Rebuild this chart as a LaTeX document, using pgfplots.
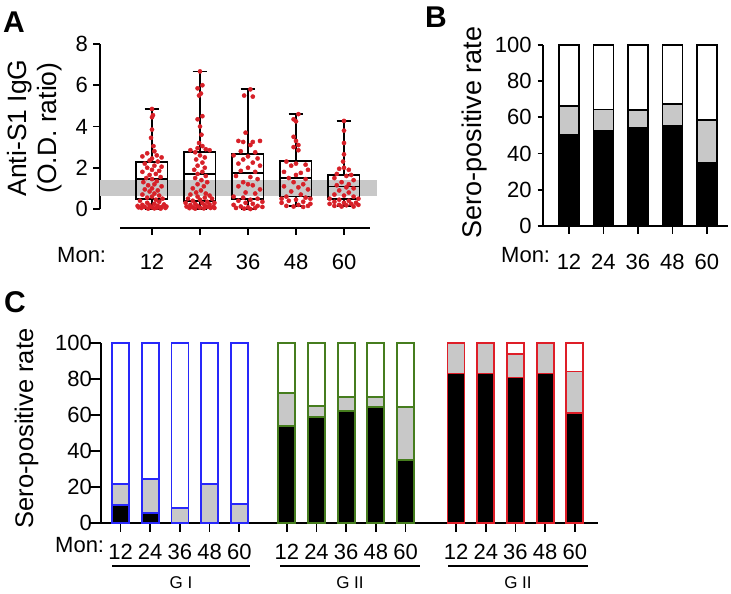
\documentclass[border=0pt]{standalone}
\usepackage{fontspec}
\setmainfont{Liberation Sans}
\usepackage{pgfplots}
\pgfplotsset{compat=1.18}
\usepgfplotslibrary{statistics}

\definecolor{dotred}{RGB}{215,32,40}
\definecolor{gblue}{RGB}{40,40,250}
\definecolor{ggreen}{RGB}{70,125,30}
\definecolor{gred}{RGB}{222,30,40}
\definecolor{bandgray}{RGB}{200,200,200}
\definecolor{seggray}{RGB}{200,200,200}

\newcommand{\tickfont}{\fontsize{22}{26}\selectfont}

\pgfplotsset{
  myaxis/.style={
    scale only axis, clip=false,
    /pgf/number format/assume math mode=true,
    tick align=outside,
    major tick length=7pt,
    every tick/.style={black, line width=1.8pt},
    axis line style={black, line width=1.8pt},
    ticklabel style={font=\tickfont},
    yticklabel style={anchor=east, inner sep=0pt},
    xticklabel style={anchor=base, inner sep=0pt},
  },
}

\begin{document}
\begin{tikzpicture}
\path[use as bounding box] (0pt,0pt) rectangle (731pt,594pt);

% ---------------- Panel A ----------------
\begin{axis}[myaxis, at={(100pt,385pt)}, anchor=south west,
  width=277pt, height=165pt,
  xmin=-0.0833, xmax=5.6875, ymin=0, ymax=8,
  axis y line*=left, axis x line=none,
  ytick={0,2,4,6,8},
  boxplot/draw direction=y,
  yticklabel style={xshift=-5pt}]
\addplot[fill=bandgray, draw=none] coordinates {(-0.0833,0.61) (5.6875,0.61) (5.6875,1.40) (-0.0833,1.40)} --cycle;
\addplot[black, line width=1.8pt, boxplot prepared={lower whisker=0, lower quartile=0.48, median=1.46, upper quartile=2.27, upper whisker=4.85, draw position=1, box extend=0.65, whisker extend=0.31}] coordinates {};
\addplot[black, line width=1.8pt, boxplot prepared={lower whisker=0, lower quartile=0.40, median=1.70, upper quartile=2.78, upper whisker=6.67, draw position=2, box extend=0.65, whisker extend=0.31}] coordinates {};
\addplot[black, line width=1.8pt, boxplot prepared={lower whisker=0, lower quartile=0.48, median=1.73, upper quartile=2.67, upper whisker=5.80, draw position=3, box extend=0.65, whisker extend=0.31}] coordinates {};
\addplot[black, line width=1.8pt, boxplot prepared={lower whisker=0.13, lower quartile=0.61, median=1.49, upper quartile=2.31, upper whisker=4.60, draw position=4, box extend=0.65, whisker extend=0.31}] coordinates {};
\addplot[black, line width=1.8pt, boxplot prepared={lower whisker=0.13, lower quartile=0.48, median=1.09, upper quartile=1.65, upper whisker=4.27, draw position=5, box extend=0.65, whisker extend=0.31}] coordinates {};
\addplot[only marks, mark=*, mark size=2.1pt, color=dotred] coordinates {
(1,4.85)(1.02,4.55)(1,4.45)(1,3.85)(0.98,3.45)(1.03,3.05)(1.05,2.8)(0.9,2.7)(1.1,2.6)(0.8,2.55)(1.2,2.5)(1,2.45)(0.95,2.35)(1.12,2.3)(0.85,2.2)(1.05,2.1)(1.2,2.05)(0.9,2.0)(1,1.9)(1.15,1.85)(0.8,1.8)(1.08,1.7)(0.95,1.65)(1.18,1.55)(0.88,1.5)(1,1.45)(1.1,1.35)(0.82,1.3)(1.05,1.2)(0.92,1.15)(1.2,1.1)(1,1.0)(0.85,0.95)(1.12,0.9)(0.95,0.85)(1.05,0.75)(0.8,0.7)(1.15,0.65)(1,0.6)(0.9,0.55)(1.22,0.5)(1.08,0.45)(0.75,0.4)(1.15,0.35)(0.9,0.3)(1.05,0.25)(1.25,0.22)(0.8,0.2)(0.95,0.18)(1.12,0.15)(0.7,0.15)(1.3,0.12)(1.2,0.1)(0.85,0.1)(1,0.08)(1.1,0.06)(0.78,0.05)(1.05,0.03)(0.92,0.02)(1.18,0.02)(1.28,0.05)(0.72,0.08)
};
\addplot[only marks, mark=*, mark size=2.1pt, color=dotred] coordinates {
(2,6.67)(2.05,6.0)(1.95,5.85)(2.02,5.6)(1.98,5.5)(2.05,4.5)(1.95,4.35)(2,4.0)(2.03,3.6)(1.98,3.2)(2.05,3.05)(1.95,2.95)(2.12,2.9)(1.8,2.85)(2.2,2.85)(1.9,2.75)(2,2.6)(2.1,2.5)(1.92,2.4)(2.05,2.25)(1.95,2.1)(2.1,2.0)(1.88,1.9)(2.05,1.8)(1.95,1.7)(2.12,1.6)(1.9,1.5)(2.03,1.4)(2.15,1.3)(1.95,1.2)(2.08,1.1)(1.85,1.0)(2.02,0.9)(1.92,0.8)(2.12,0.75)(1.8,0.7)(2.2,0.65)(1.95,0.6)(2.1,0.55)(1.75,0.5)(2.25,0.5)(2,0.45)(1.85,0.4)(2.15,0.35)(1.7,0.3)(2.3,0.3)(2.05,0.28)(1.9,0.25)(2.2,0.22)(1.8,0.2)(2.1,0.18)(1.95,0.15)(2.28,0.12)(1.72,0.12)(2.15,0.1)(1.85,0.08)(2,0.06)(2.22,0.05)(1.78,0.04)(2.08,0.03)(1.9,0.02)(2.3,0.05)
};
\addplot[only marks, mark=*, mark size=2.1pt, color=dotred] coordinates {
(3.05,5.8)(2.92,5.5)(3.1,5.45)(2.95,3.7)(2.8,3.3)(2.9,3.25)(3.1,3.25)(3.25,3.3)(3.05,3.1)(2.85,2.8)(3.15,2.75)(2.7,2.6)(3,2.55)(3.2,2.45)(2.9,2.4)(3.1,2.25)(2.8,2.2)(3.25,2.1)(3,2.0)(2.85,1.85)(3.15,1.8)(2.75,1.6)(3.05,1.55)(3.2,1.45)(2.9,1.3)(3,1.2)(3.1,1.15)(2.8,1.1)(3.25,0.95)(2.95,0.8)(3.15,0.75)(2.7,0.6)(2.9,0.55)(3.2,0.5)(3.05,0.45)(2.8,0.4)(3.3,0.35)(2.95,0.3)(3.1,0.25)(2.7,0.2)(3.2,0.15)(2.85,0.12)(3.3,0.1)(3,0.08)(2.75,0.05)(3.15,0.05)(2.92,0.02)(3.05,0.0)
};
\addplot[only marks, mark=*, mark size=2.1pt, color=dotred] coordinates {
(4.05,4.6)(3.95,4.35)(4,4.25)(3.95,3.5)(4,3.3)(4.05,3.1)(3.95,3.0)(4.05,2.85)(3.8,2.3)(4,2.2)(4.2,2.15)(3.9,2.1)(4.25,1.9)(3.75,1.8)(4.1,1.75)(4,1.65)(3.85,1.5)(4.2,1.45)(3.95,1.3)(4.15,1.2)(3.75,1.1)(4.05,1.05)(4.25,0.95)(3.9,0.85)(4.1,0.7)(3.8,0.6)(4.2,0.55)(3.7,0.5)(4.3,0.5)(4,0.45)(3.85,0.4)(4.15,0.35)(3.7,0.3)(4.3,0.25)(4.05,0.2)(3.8,0.15)(4.25,0.15)(3.95,0.12)(4.15,0.1)
};
\addplot[only marks, mark=*, mark size=2.1pt, color=dotred] coordinates {
(5,4.27)(5,3.8)(5,3.2)(5,2.65)(4.98,2.3)(5,2.0)(4.9,1.95)(5.1,1.9)(4.85,1.7)(5.15,1.65)(5.05,1.6)(4.8,1.5)(5.2,1.4)(4.95,1.3)(5.1,1.2)(4.85,1.15)(5.05,1.05)(5.2,1.0)(4.9,0.9)(5.1,0.8)(4.8,0.7)(5,0.65)(5.2,0.6)(4.7,0.5)(5.3,0.5)(4.9,0.45)(5.1,0.4)(4.8,0.35)(5.25,0.3)(5,0.3)(4.7,0.25)(5.15,0.25)(4.9,0.2)(5.3,0.2)(5.05,0.18)(4.8,0.15)(5.2,0.12)(4.95,0.12)
};
\end{axis}

% Panel A separate x axis
\begin{axis}[myaxis, at={(120pt,366pt)}, anchor=south west,
  width=250pt, height=10pt,
  xmin=0.3333, xmax=5.5417, ymin=0, ymax=1,
  axis x line*=bottom, axis y line=none,
  xtick={1,2,3,4,5}, xticklabels={12,24,36,48,60},
  xticklabel style={yshift=-35pt}]
\end{axis}

% ---------------- Panel B ----------------
\begin{axis}[myaxis, at={(542.7pt,368pt)}, anchor=south west,
  width=185.3pt, height=181pt,
  xmin=0.238, xmax=5.61, ymin=0, ymax=100,
  axis x line*=bottom, axis y line*=left,
  xtick={1,2,3,4,5}, xticklabels={12,24,36,48,60},
  ytick={0,20,40,60,80,100},
  xtick style={/pgfplots/major tick length=8pt},
  ytick style={/pgfplots/major tick length=5pt},
  yticklabel style={xshift=-4pt},
  xticklabel style={yshift=-37pt}]
\addplot[ybar, bar width=20pt, bar shift=0pt, fill=white, draw=black, line width=1.8pt] coordinates {(1,100)(2,100)(3,100)(4,100)(5,100)};
\addplot[ybar, bar width=20pt, bar shift=0pt, fill=seggray, draw=black, line width=1.8pt] coordinates {(1,66.2)(2,64.4)(3,64.0)(4,67.6)(5,58.6)};
\addplot[ybar, bar width=20pt, bar shift=0pt, fill=black, draw=black, line width=1.8pt] coordinates {(1,50.4)(2,52.4)(3,54.2)(4,55.5)(5,35.1)};
\end{axis}

% ---------------- Panel C ----------------
\begin{axis}[myaxis, at={(101pt,71pt)}, anchor=south west,
  width=497pt, height=180pt,
  xmin=-0.657, xmax=16.08, ymin=0, ymax=100,
  axis x line*=bottom, axis y line*=left,
  xtick={0,1,2,3,4,5.6,6.6,7.6,8.6,9.6,11.3,12.3,13.3,14.3,15.3},
  xticklabels={12,24,36,48,60,12,24,36,48,60,12,24,36,48,60},
  ytick={0,20,40,60,80,100},
  xtick style={/pgfplots/major tick length=9pt},
  ytick style={/pgfplots/major tick length=12pt},
  yticklabel style={xshift=-2pt},
  xticklabel style={yshift=-30pt}]
% G I
\addplot[ybar, bar width=17pt, bar shift=0pt, fill=white, draw=gblue, line width=1.8pt] coordinates {(0,100)(1,100)(2,100)(3,100)(4,100)};
\addplot[ybar, bar width=17pt, bar shift=0pt, fill=seggray, draw=gblue, line width=1.8pt] coordinates {(0,21.7)(1,24.5)(2,8.5)(3,21.7)(4,10.7)};
\addplot[ybar, bar width=17pt, bar shift=0pt, fill=black, draw=gblue, line width=1.8pt] coordinates {(0,10.0)(1,5.6)};
% G II
\addplot[ybar, bar width=17pt, bar shift=0pt, fill=white, draw=ggreen, line width=1.8pt] coordinates {(5.6,100)(6.6,100)(7.6,100)(8.6,100)(9.6,100)};
\addplot[ybar, bar width=17pt, bar shift=0pt, fill=seggray, draw=ggreen, line width=1.8pt] coordinates {(5.6,72.4)(6.6,65.2)(7.6,70.2)(8.6,69.8)(9.6,64.3)};
\addplot[ybar, bar width=17pt, bar shift=0pt, fill=black, draw=ggreen, line width=1.8pt] coordinates {(5.6,53.8)(6.6,58.7)(7.6,62.0)(8.6,64.6)(9.6,34.8)};
% G III
\addplot[ybar, bar width=17pt, bar shift=0pt, fill=white, draw=gred, line width=1.8pt] coordinates {(11.3,100)(12.3,100)(13.3,100)(14.3,100)(15.3,100)};
\addplot[ybar, bar width=17pt, bar shift=0pt, fill=seggray, draw=gred, line width=1.8pt] coordinates {(11.3,100)(12.3,100)(13.3,93.7)(14.3,100)(15.3,84.2)};
\addplot[ybar, bar width=17pt, bar shift=0pt, fill=black, draw=gred, line width=1.8pt] coordinates {(11.3,83.0)(12.3,83.0)(13.3,80.8)(14.3,83.0)(15.3,61.0)};
\end{axis}

% ---------------- Text & decorations ----------------
\node[font=\fontsize{30}{34}\selectfont\bfseries, anchor=base west, inner sep=0pt] at (3pt,561pt) {A};
\node[font=\fontsize{30}{34}\selectfont\bfseries, anchor=base west, inner sep=0pt] at (425pt,566pt) {B};
\node[font=\fontsize{30}{34}\selectfont\bfseries, anchor=base west, inner sep=0pt] at (4pt,281pt) {C};

\node[font=\fontsize{26.5}{30}\selectfont, rotate=90, anchor=base, inner sep=0pt] at (26pt,466pt) {Anti-S1 IgG};
\node[font=\fontsize{26.5}{30}\selectfont, rotate=90, anchor=base, inner sep=0pt] at (56.5pt,466pt) {(O.D. ratio)};
\node[font=\fontsize{27}{30}\selectfont, rotate=90, anchor=base, inner sep=0pt] at (481pt,461.5pt) {Sero-positive rate};
\node[font=\fontsize{25.5}{30}\selectfont, rotate=90, anchor=base, inner sep=0pt] at (33pt,165.5pt) {Sero-positive rate};

\node[font=\tickfont, anchor=base west, inner sep=0pt] at (57pt,331pt) {Mon:};
\node[font=\tickfont, anchor=base west, inner sep=0pt] at (501pt,331pt) {Mon:};
\node[font=\tickfont, anchor=base west, inner sep=0pt] at (55pt,41pt) {Mon:};

\draw[line width=1.5pt] (112pt,28pt) -- (250pt,28pt);
\draw[line width=1.5pt] (280pt,28pt) -- (420pt,28pt);
\draw[line width=1.5pt] (448pt,28pt) -- (588pt,28pt);
\node[font=\fontsize{17}{20}\selectfont, anchor=base, inner sep=0pt] at (181pt,5pt) {G I};
\node[font=\fontsize{17}{20}\selectfont, anchor=base, inner sep=0pt] at (350pt,5pt) {G II};
\node[font=\fontsize{17}{20}\selectfont, anchor=base, inner sep=0pt] at (518pt,5pt) {G II};
\end{tikzpicture}
\end{document}
